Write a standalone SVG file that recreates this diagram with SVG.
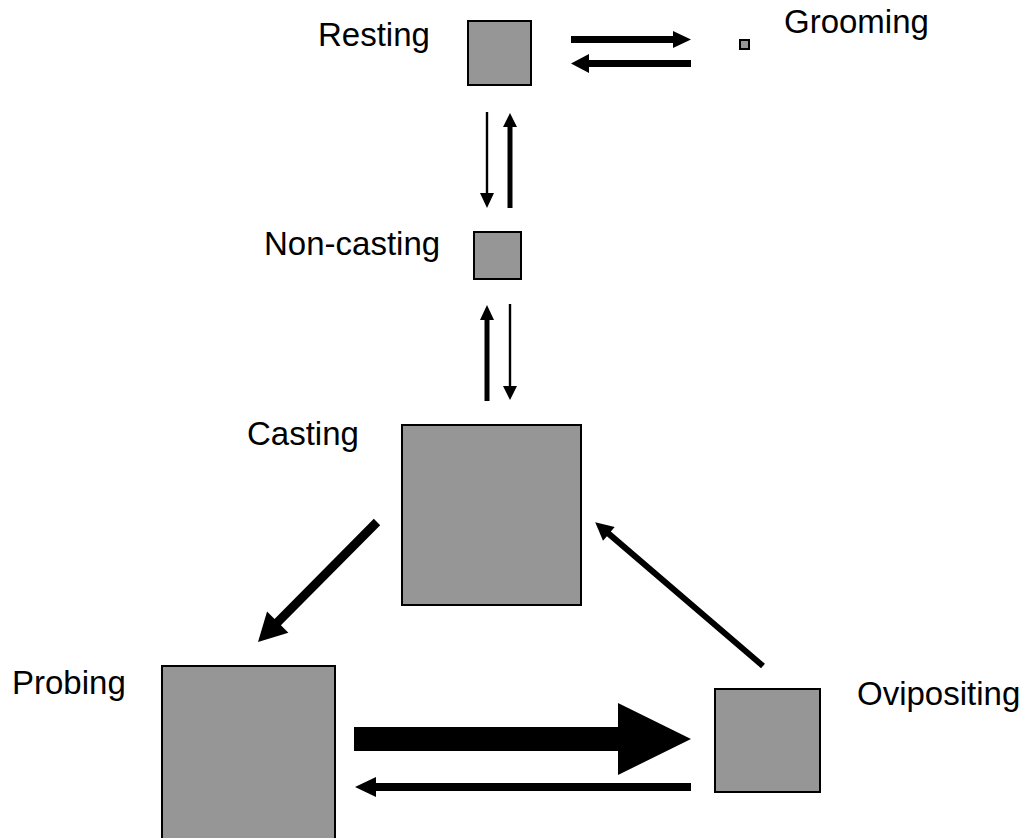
<svg xmlns="http://www.w3.org/2000/svg" width="1029" height="838" viewBox="0 0 1029 838">
<style>
.box{fill:#969696;stroke:#000;stroke-width:2}
.lbl{font-family:"Liberation Sans",Arial,sans-serif;font-size:33px;fill:#000}
.arr{fill:#000;stroke:none}
</style>
<rect width="1029" height="838" fill="#fff"/>
<g id="resting"><rect class="box" x="468" y="21" width="63" height="64"/><text class="lbl" x="318" y="46">Resting</text></g>
<g id="grooming"><rect class="box" x="740" y="40" width="9" height="9" stroke-width="1.5"/><text class="lbl" x="784" y="33">Grooming</text></g>
<g id="noncasting"><rect class="box" x="474" y="232" width="47" height="47"/><text class="lbl" x="264" y="255">Non-casting</text></g>
<g id="casting"><rect class="box" x="402" y="425" width="179" height="180"/><text class="lbl" x="247" y="445">Casting</text></g>
<g id="probing"><rect class="box" x="162" y="666" width="173" height="180"/><text class="lbl" x="12" y="694">Probing</text></g>
<g id="ovipositing"><rect class="box" x="715" y="689" width="105" height="103"/><text class="lbl" x="857" y="705">Ovipositing</text></g>
<g id="connectors">
<polygon class="arr" points="571,36 673,36 673,31 691,39.5 673,48 673,43 571,43"/>
<polygon class="arr" points="691,60 589,60 589,54 571,63.5 589,73 589,67 691,67"/>
<polygon class="arr" points="485.8,112 488.2,112 488.2,193 494,193 487,208 480,193 485.8,193"/>
<polygon class="arr" points="507.5,208 512.5,208 512.5,127 517,127 510,113 503,127 507.5,127"/>
<polygon class="arr" points="484.5,401 489.5,401 489.5,320 494,320 487,305 480,320 484.5,320"/>
<polygon class="arr" points="508.8,304 511.2,304 511.2,386 517,386 510,400 503,386 508.8,386"/>
<polygon class="arr" points="354,727 618,727 618,703 691,739 618,775 618,751 354,751"/>
<polygon class="arr" points="691,783 376,783 376,777 355,787 376,797 376,791 691,791"/>
<polygon class="arr" transform="translate(377,522) rotate(134.76)" points="0,-4.5 141,-4.5 141,-15 169,0 141,15 141,4.5 0,4.5"/>
<polygon class="arr" transform="translate(763,666) rotate(-139.4)" points="0,-3 203,-3 203,-9 221,0 203,9 203,3 0,3"/>
</g>
</svg>
